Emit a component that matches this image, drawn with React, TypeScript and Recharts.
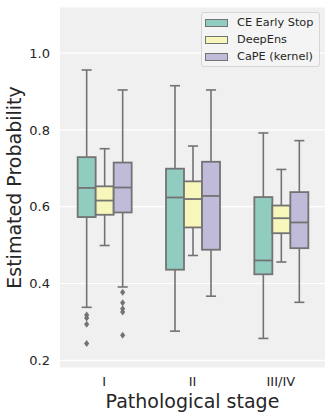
import { BarChart, Bar, XAxis, YAxis, CartesianGrid, Legend } from 'recharts'

const stages = ['I', 'II', 'III/IV']
const seriesNames = ['CE Early Stop', 'DeepEns', 'CaPE (kernel)']
const seriesColors = ['#91ccc1', '#f7f7bb', '#bfbbd9']

// [lower whisker, q1, median, q3, upper whisker] per stage
const ceEarlyStop = [
  [0.338, 0.573, 0.649, 0.729, 0.956],
  [0.276, 0.436, 0.624, 0.699, 0.915],
  [0.257, 0.424, 0.46, 0.625, 0.792],
]
const deepEns = [
  [0.499, 0.579, 0.616, 0.653, 0.751],
  [0.473, 0.546, 0.62, 0.666, 0.758],
  [0.456, 0.531, 0.57, 0.603, 0.697],
]
const capeKernel = [
  [0.391, 0.585, 0.65, 0.715, 0.904],
  [0.367, 0.488, 0.628, 0.717, 0.904],
  [0.351, 0.492, 0.559, 0.638, 0.772],
]
const ceOutliers = [[0.318, 0.31, 0.294, 0.244], [], []]
const deepEnsOutliers = [[], [], []]
const capeOutliers = [[0.377, 0.35, 0.334, 0.326, 0.265], [], []]

const yTicks = [0.2, 0.4, 0.6, 0.8, 1.0]

const allStats = [ceEarlyStop, deepEns, capeKernel]
const allOutliers = [ceOutliers, deepEnsOutliers, capeOutliers]
const keys = ['ce', 'deep', 'cape']

const data = stages.map((stage, i) => {
  const row: any = { stage }
  keys.forEach((k, s) => {
    row[k] = [allStats[s][i][1], allStats[s][i][3]]
    row[k + 'Stats'] = allStats[s][i]
    row[k + 'Out'] = allOutliers[s][i]
  })
  return row
})

const EDGE = '#737373'
const FONT = 'DejaVu Sans, sans-serif'

const makeBoxShape = (s: number) => (props: any) => {
  const { x, y, width, height, payload } = props
  const [lo, q1, med, q3, hi] = payload[keys[s] + 'Stats']
  const outs: number[] = payload[keys[s] + 'Out']
  const top = Math.min(y, y + height)
  const h = Math.abs(height)
  const k = h / (q3 - q1)
  const py = (v: number) => top + (q3 - v) * k
  const cx = x + width / 2
  const cap = width * 0.28
  return (
    <g>
      <line x1={cx} x2={cx} y1={py(hi)} y2={py(q3)} stroke={EDGE} strokeWidth={1.6} />
      <line x1={cx} x2={cx} y1={py(q1)} y2={py(lo)} stroke={EDGE} strokeWidth={1.6} />
      <line x1={cx - cap} x2={cx + cap} y1={py(hi)} y2={py(hi)} stroke={EDGE} strokeWidth={1.6} />
      <line x1={cx - cap} x2={cx + cap} y1={py(lo)} y2={py(lo)} stroke={EDGE} strokeWidth={1.6} />
      <rect x={x} y={top} width={width} height={h} fill={seriesColors[s]} stroke={EDGE} strokeWidth={1.8} />
      <line x1={x} x2={x + width} y1={py(med)} y2={py(med)} stroke={EDGE} strokeWidth={1.8} />
      {outs.map((v, j) => (
        <polygon
          key={j}
          points={`${cx},${py(v) - 3.5} ${cx + 2.6},${py(v)} ${cx},${py(v) + 3.5} ${cx - 2.6},${py(v)}`}
          fill={EDGE}
        />
      ))}
    </g>
  )
}

const LegendBox = () => (
  <div
    style={{
      border: '1px solid #d6d6d6',
      borderRadius: 3,
      background: 'rgba(244,244,244,0.85)',
      padding: '1px 6px 1px 3px',
      fontFamily: FONT,
      fontSize: 11.3,
      color: '#262626',
    }}
  >
    {seriesNames.map((n, i) => (
      <div key={n} style={{ display: 'flex', alignItems: 'center', height: 17 }}>
        <div
          style={{
            width: 21,
            height: 6,
            background: seriesColors[i],
            border: `1px solid ${EDGE}`,
            marginRight: 9,
          }}
        />
        <span style={{ whiteSpace: 'nowrap' }}>{n}</span>
      </div>
    ))}
  </div>
)

export default function App() {
  return (
    <div style={{ position: 'absolute', left: 0, top: 0, width: 332, height: 420, background: '#fff' }}>
      <BarChart
        width={332}
        height={420}
        data={data}
        margin={{ top: 7, right: 7, bottom: 0, left: 0 }}
        barCategoryGap="20%"
        barGap={0}
      >
        <CartesianGrid vertical={false} stroke="#ffffff" strokeWidth={1.2} fill="#f0f0f0" />
        <XAxis
          dataKey="stage"
          height={52}
          axisLine={false}
          tickLine={false}
          tickMargin={3}
          tick={{ fontSize: 13, fill: '#262626', fontFamily: FONT }}
          label={{
            value: 'Pathological stage',
            position: 'insideBottom',
            offset: 12,
            style: { fontSize: 19, fill: '#262626', fontFamily: FONT },
          }}
        />
        <YAxis
          type="number"
          width={60}
          domain={[0.18, 1.12]}
          ticks={yTicks}
          axisLine={false}
          tickLine={false}
          tickMargin={4}
          tickFormatter={(v: number) => v.toFixed(1)}
          tick={{ fontSize: 13, fill: '#262626', fontFamily: FONT }}
          label={{
            content: ({ viewBox }: any) => {
              const cy = viewBox.y + viewBox.height / 2
              return (
                <text
                  x={21}
                  y={cy}
                  transform={`rotate(-90, 21, ${cy})`}
                  textAnchor="middle"
                  fontSize={19}
                  fill="#262626"
                  fontFamily={FONT}
                >
                  Estimated Probability
                </text>
              )
            },
          }}
        />
        <Legend
          layout="vertical"
          align="center"
          verticalAlign="middle"
          content={() => <LegendBox />}
          wrapperStyle={{ left: 201, top: 12, width: 'auto', height: 'auto' }}
        />
        {keys.map((k, s) => (
          <Bar
            key={k}
            dataKey={k}
            name={seriesNames[s]}
            fill={seriesColors[s]}
            shape={makeBoxShape(s)}
            isAnimationActive={false}
          />
        ))}
      </BarChart>
    </div>
  )
}
